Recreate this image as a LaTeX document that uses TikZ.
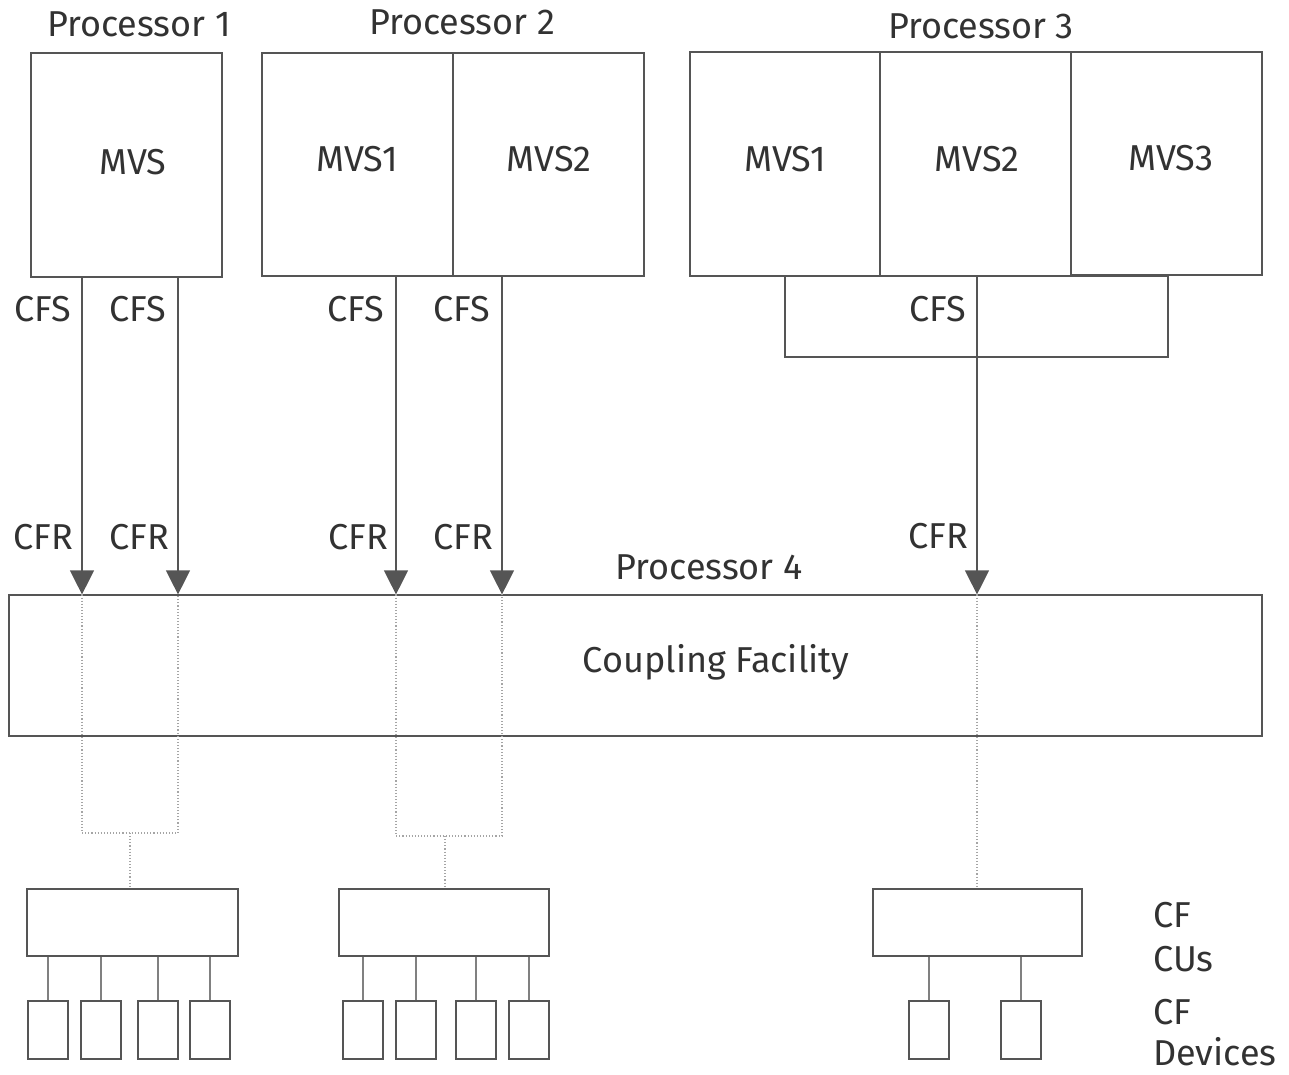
\documentclass[tikz,border=0pt]{standalone}
\usepackage{fontspec}
\setmainfont{Fira Sans}
\usepackage{tikz}
\definecolor{lineGray}{RGB}{85,85,85}
\definecolor{textGray}{RGB}{50,50,50}
\definecolor{dotGray}{RGB}{165,165,165}
\usetikzlibrary{arrows.meta}

\tikzset{
  box/.style={draw=lineGray, line width=1.2pt, inner sep=0pt},
  lbl/.style={text=textGray, font=\fontsize{36}{42}\selectfont, inner sep=0pt},
  link/.style={draw=lineGray, line width=1.2pt, -{Triangle[width=24pt,length=24pt]}},
  cflink/.style={draw=dotGray, dotted, line width=1.1pt},
  wire/.style={draw=lineGray!75, line width=1.2pt},
  dev/.style={box, minimum width=40pt, minimum height=58pt},
  cu/.style={box, minimum width=210pt, minimum height=67pt},
}

\begin{document}
\begin{tikzpicture}[x=1pt, y=-1pt]
        \useasboundingbox (0,0) rectangle (1289,1074);

        % processors
        \node[box, minimum width=191pt, minimum height=224pt] (p1) at (126.5,165) {};
        \node[box, minimum width=191pt, minimum height=223pt] (p2a) at (357.5,164.5) {};
        \node[box, minimum width=191pt, minimum height=223pt] (p2b) at (548.5,164.5) {};
        \node[box, minimum width=190pt, minimum height=224pt] (p3a) at (785,164) {};
        \node[box, minimum width=191pt, minimum height=224pt] (p3b) at (975.5,164) {};
        \node[box, minimum width=191pt, minimum height=223pt] (p3c) at (1166.5,163.5) {};
        \node[box, minimum width=383pt, minimum height=81pt] (cfs3) at (976.5,316.5) {};

        \node[lbl] (m1) at (133,162) {MVS};
        \node[lbl] (m2) at (357,159) {MVS1};
        \node[lbl] (m3) at (549,159) {MVS2};
        \node[lbl] (m4) at (785,159) {MVS1};
        \node[lbl] (m5) at (977,159) {MVS2};
        \node[lbl] (m6) at (1171,158) {MVS3};

        \node[lbl] (n1) at (139,24) {Processor 1};
        \node[lbl] (n2) at (462,22) {Processor 2};
        \node[lbl] (n3) at (981,26) {Processor 3};
        \node[lbl] (n4) at (709,567) {Processor 4};

        % coupling facility
        \node[box, minimum width=1253pt, minimum height=141pt] (cf) at (635.5,665.5) {};
        \node[lbl] (cft) at (716,662) {Coupling Facility};

        % links
        \coordinate (s1) at (82,277);
        \coordinate (s2) at (178,277);
        \coordinate (s3) at (396,276);
        \coordinate (s4) at (502,276);
        \coordinate (s5) at (977,276);
        \foreach \s in {s1,s2,s3,s4,s5}
            \draw[link] (\s) -- (\s |- cf.north);

        \node[lbl] (cfs1) at (43,309) {CFS};
        \node[lbl] (cfs2) at (138,309) {CFS};
        \node[lbl] (cfs3l) at (356,309) {CFS};
        \node[lbl] (cfs4) at (462,309) {CFS};
        \node[lbl] (cfs5) at (938,309) {CFS};
        \node[lbl] (cfr1) at (43,537) {CFR};
        \node[lbl] (cfr2) at (139,537) {CFR};
        \node[lbl] (cfr3) at (358,537) {CFR};
        \node[lbl] (cfr4) at (463,537) {CFR};
        \node[lbl] (cfr5) at (938,536) {CFR};

        % control units
        \node[cu, minimum width=211pt] (cu1) at (132.5,922.5) {};
        \node[cu] (cu2) at (444,922.5) {};
        \node[cu, minimum width=209pt] (cu3) at (977.5,922.5) {};

        % paths through the CF
        \coordinate (j1) at (130,833);
        \coordinate (j2) at (445,836);
        \draw[cflink] (s1 |- cf.north) -- (s1 |- j1) -- (s2 |- j1) -- (s2 |- cf.north);
        \draw[cflink] (s3 |- cf.north) -- (s3 |- j2) -- (s4 |- j2) -- (s4 |- cf.north);
        \draw[cflink] (j1) -- (j1 |- cu1.north);
        \draw[cflink] (j2) -- (j2 |- cu2.north);
        \draw[cflink] (s5 |- cf.north) -- (s5 |- cu3.north);

        % devices
        \foreach \x [count=\i] in {48,101,158,210} {
            \node[dev] (da\i) at (\x,1030) {};
            \draw[wire] (da\i.north) -- (da\i.north |- cu1.south);
        }
        \foreach \x [count=\i] in {363,416,476,529} {
            \node[dev] (db\i) at (\x,1030) {};
            \draw[wire] (db\i.north) -- (db\i.north |- cu2.south);
        }
        \foreach \x [count=\i] in {929,1021} {
            \node[dev] (dc\i) at (\x,1030) {};
            \draw[wire] (dc\i.north) -- (dc\i.north |- cu3.south);
        }

        \node[lbl, anchor=base west] (k1) at (1153,927) {CF};
        \node[lbl, anchor=base west] (k2) at (1153,971) {CUs};
        \node[lbl, anchor=base west] (k3) at (1153,1024) {CF};
        \node[lbl, anchor=base west] (k4) at (1153,1065) {Devices};
    \end{tikzpicture}
\end{document}
